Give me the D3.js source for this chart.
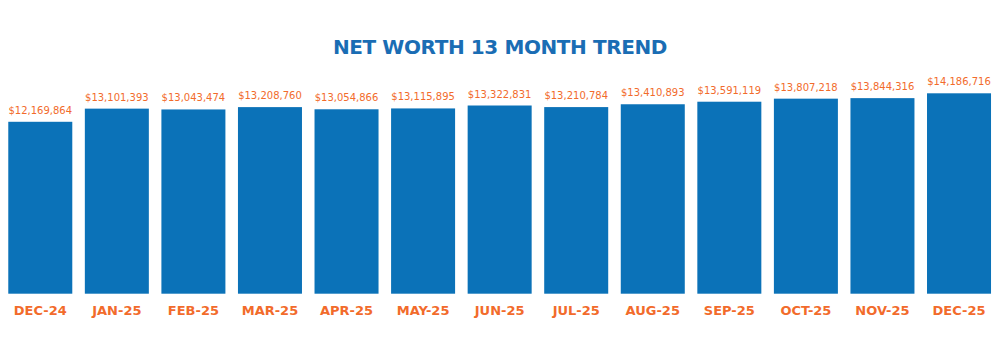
<!DOCTYPE html>
<html>
<head>
<meta charset="utf-8">
<script src="https://cdn.jsdelivr.net/npm/d3@7"></script>
<style>
  html, body { margin: 0; padding: 0; background: #fff; }
  svg { display: block; }
</style>
</head>
<body>
<svg id="chart" width="1000" height="342"></svg>
<script>
// Monthly net worth, Dec 2024 through Dec 2025
const months = ["DEC-24", "JAN-25", "FEB-25", "MAR-25", "APR-25", "MAY-25", "JUN-25",
                "JUL-25", "AUG-25", "SEP-25", "OCT-25", "NOV-25", "DEC-25"];
const netWorth = [12169864, 13101393, 13043474, 13208760, 13054866, 13115895, 13322831,
                  13210784, 13410893, 13591119, 13807218, 13844316, 14186716];
const title = "NET WORTH 13 MONTH TREND";

const blue = "#0b72b8";
const orange = "#f26b2b";
const titleBlue = "#1a6db4";
const font = "'DejaVu Sans', sans-serif";

const svg = d3.select("#chart");
const baseline = 293.7;

const x = d3.scaleBand()
  .domain(months)
  .range([2, 997.3])
  .paddingInner(0.164)
  .paddingOuter(0.082);

const y = d3.scaleLinear()
  .domain([0, d3.max(netWorth)])
  .range([baseline, 93.3]);

const data = months.map((m, i) => ({ month: m, value: netWorth[i] }));

svg.append("text")
  .attr("x", 500)
  .attr("y", 54.3)
  .attr("text-anchor", "middle")
  .attr("font-family", font)
  .attr("font-weight", 600)
  .attr("font-size", 20)
  .attr("letter-spacing", -0.4)
  .attr("fill", titleBlue)
  .text(title);

svg.append("g")
  .selectAll("rect")
  .data(data)
  .join("rect")
  .attr("x", d => x(d.month))
  .attr("width", x.bandwidth())
  .attr("y", d => y(d.value))
  .attr("height", d => baseline - y(d.value))
  .attr("fill", blue);

const fmt = d3.format("$,.0f");
svg.append("g")
  .selectAll("text")
  .data(data)
  .join("text")
  .attr("x", d => x(d.month) + x.bandwidth() / 2)
  .attr("y", d => y(d.value) - 8)
  .attr("text-anchor", "middle")
  .attr("font-family", font)
  .attr("font-size", 10)
  .attr("fill", orange)
  .text(d => fmt(d.value));

// Month labels along the bottom
const xAxis = d3.axisBottom(x).tickSize(0).tickPadding(0);
const axisG = svg.append("g")
  .attr("transform", `translate(0,${baseline})`)
  .call(xAxis);
axisG.select(".domain").remove();
axisG.selectAll("text")
  .attr("dy", null)
  .attr("y", 21.5)
  .attr("font-family", font)
  .attr("font-weight", "bold")
  .attr("font-size", 13)
  .attr("fill", orange);
</script>
</body>
</html>
